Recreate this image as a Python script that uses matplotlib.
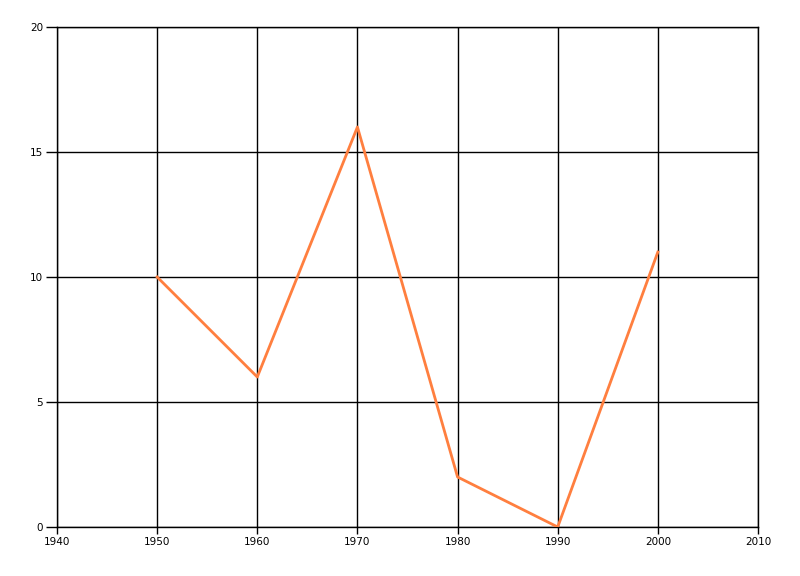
import matplotlib
matplotlib.use("Agg")
import matplotlib.pyplot as plt

years = [1950, 1960, 1970, 1980, 1990, 2000]
values = [10, 6, 16, 2, 0, 11]
x_ticks = [1940, 1950, 1960, 1970, 1980, 1990, 2000, 2010]
y_ticks = [0, 5, 10, 15, 20]

fig = plt.figure(figsize=(8, 5.76), dpi=100)
ax = fig.add_axes([57 / 800, 1 - 527 / 576, (758 - 57) / 800, (527 - 27) / 576])

ax.plot(years, values, color="#ff7f3f", linewidth=2, zorder=3)

ax.set_xlim(1940, 2010)
ax.set_ylim(0, 20)
ax.set_xticks(x_ticks)
ax.set_yticks(y_ticks)
ax.grid(True, color="black", linewidth=1)
ax.set_axisbelow(True)

for s in ax.spines.values():
    s.set_color("black")
    s.set_linewidth(1)

ax.tick_params(axis="y", length=8, width=1, pad=2, labelsize=7.5)
ax.tick_params(axis="x", length=5, width=1, pad=2, labelsize=7.5)

fig.savefig("out.png", dpi=100)
